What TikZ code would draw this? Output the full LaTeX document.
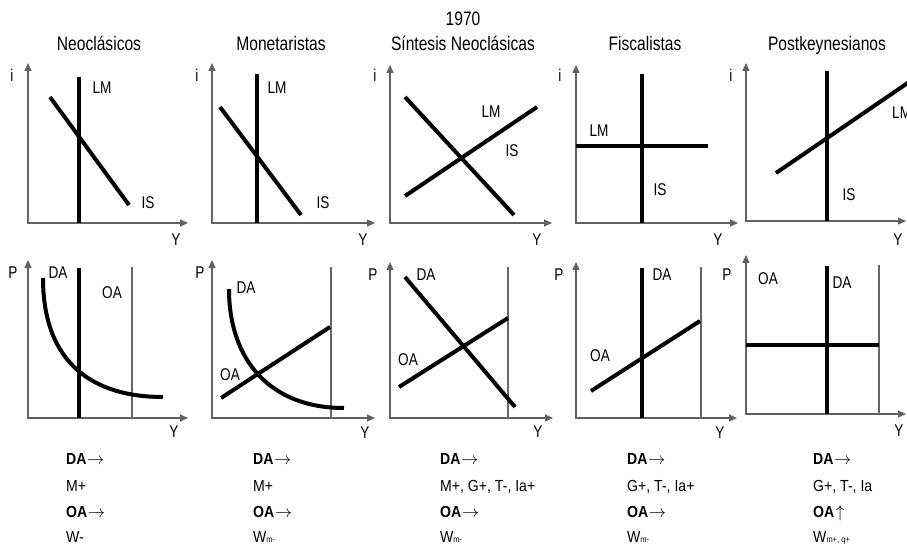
\documentclass[tikz,border=0pt]{standalone}
\usepackage{fontspec}
\setmainfont[FakeStretch=0.8]{Liberation Sans}
\newfontfamily\txtfont[FakeStretch=0.88]{Liberation Sans}
\usetikzlibrary{arrows.meta}
\newcommand{\subsm}[1]{{\fontsize{8.5}{8.5}\selectfont #1}}
\newcommand{\rarr}{\hspace{0.5pt}$\rightarrow$}
\newcommand{\uarr}{\hspace{1.5pt}$\uparrow$}
\begin{document}
\begin{tikzpicture}[x=1pt,y=-1pt,
  axis/.style={draw=black!62, line width=1.4pt, {Triangle[length=8pt,width=7pt]}-{Triangle[length=8pt,width=7pt]}},
  guide/.style={draw=black!60, line width=1.2pt},
  curve/.style={draw=black, line width=4pt},
  lbl/.style={font=\fontsize{17}{19}\selectfont, inner sep=0pt},
  ttl/.style={font=\fontsize{19.5}{21}\selectfont, inner sep=0pt, anchor=base},
  txt/.style={font=\txtfont\fontsize{16}{18}\selectfont, inner sep=0pt, anchor=base west},
]
\useasboundingbox (0,0) rectangle (907,545);

% titles
\node[ttl] (yr) at (463,26) {1970};
\node[ttl] (t1) at (99,51) {Neoclásicos};
\node[ttl] (t2) at (281,51) {Monetaristas};
\node[ttl] (t3) at (463,51) {Síntesis Neoclásicas};
\node[ttl] (t4) at (645,51) {Fiscalistas};
\node[ttl] (t5) at (827,51) {Postkeynesianos};

% ---------- top row ----------
% panel 1
\draw[axis] (28,63) |- (188,223);
\draw[curve] (79,77) -- (79,223);
\draw[curve] (50,97) -- (129,205);
\node[lbl] (a1i) at (12,75) {i};
\node[lbl] (a1lm) at (102,88) {LM};
\node[lbl] (a1is) at (148,203) {IS};
\node[lbl] (a1y) at (176,240) {Y};
% panel 2
\draw[axis] (212,63) |- (375,223);
\draw[curve] (257,74) -- (257,223);
\draw[curve] (220,107) -- (301,215);
\node[lbl] (a2i) at (197,75) {i};
\node[lbl] (a2lm) at (277,88) {LM};
\node[lbl] (a2is) at (323,203) {IS};
\node[lbl] (a2y) at (363,240) {Y};
% panel 3
\draw[axis] (390,65) |- (552,223);
\draw[curve] (405,97) -- (514,215);
\draw[curve] (405,196) -- (537,107);
\node[lbl] (a3i) at (375,75) {i};
\node[lbl] (a3lm) at (491,112) {LM};
\node[lbl] (a3is) at (512,151) {IS};
\node[lbl] (a3y) at (537,240) {Y};
% panel 4
\draw[axis] (576,65) |- (738,223);
\draw[curve] (642,74) -- (642,223);
\draw[curve] (576,146) -- (708,146);
\node[lbl] (a4i) at (560,75) {i};
\node[lbl] (a4lm) at (599,131) {LM};
\node[lbl] (a4is) at (660,190) {IS};
\node[lbl] (a4y) at (718,240) {Y};
% panel 5
\draw[axis] (746,63) |- (906,221);
\draw[curve] (827,71) -- (827,221);
\draw[curve] (776,173) -- (912,80);
\node[lbl] (a5i) at (731,75) {i};
\node[lbl, anchor=west] (a5lm) at (892,113) {LM};
\node[lbl] (a5is) at (849,195) {IS};
\node[lbl] (a5y) at (898,240) {Y};

% ---------- bottom row ----------
% panel 1
\draw[axis] (28,260) |- (188,418);
\draw[guide] (132,267) -- (132,418);
\draw[curve] (79,268) -- (79,418);
\draw[curve] (43,278) .. controls (43,365) and (95,397) .. (163,397);
\node[lbl] (b1p) at (13,273) {P};
\node[lbl] (b1da) at (58,273) {DA};
\node[lbl] (b1oa) at (112,293) {OA};
\node[lbl] (b1y) at (174,432) {Y};
% panel 2
\draw[axis] (212,260) |- (375,418);
\draw[guide] (331,267) -- (331,418);
\draw[curve] (229,289) .. controls (229,360) and (270,408) .. (344,408);
\draw[curve] (221,398) -- (330,327);
\node[lbl] (b2p) at (200,273) {P};
\node[lbl] (b2da) at (246,288) {DA};
\node[lbl] (b2oa) at (230,375) {OA};
\node[lbl] (b2y) at (365,433) {Y};
% panel 3
\draw[axis] (390,262) |- (553,418);
\draw[guide] (508,267) -- (508,418);
\draw[curve] (405,277) -- (515,407);
\draw[curve] (399,387) -- (508,318);
\node[lbl] (b3p) at (373,275) {P};
\node[lbl] (b3da) at (426,275) {DA};
\node[lbl] (b3oa) at (408,360) {OA};
\node[lbl] (b3y) at (538,432) {Y};
% panel 4
\draw[axis] (576,262) |- (737,418);
\draw[guide] (701,267) -- (701,418);
\draw[curve] (642,268) -- (642,418);
\draw[curve] (591,391) -- (700,321);
\node[lbl] (b4p) at (559,275) {P};
\node[lbl] (b4da) at (662,275) {DA};
\node[lbl] (b4oa) at (600,356) {OA};
\node[lbl] (b4y) at (720,433) {Y};
% panel 5
\draw[axis] (746,255) |- (906,414);
\draw[guide] (879,265) -- (879,414);
\draw[curve] (827,266) -- (827,414);
\draw[curve] (746,345) -- (879,345);
\node[lbl] (b5p) at (727,275) {P};
\node[lbl] (b5oa) at (768,279) {OA};
\node[lbl] (b5da) at (842,283) {DA};
\node[lbl] (b5y) at (899,431) {Y};

% ---------- bottom text ----------
\node[txt] (c1a) at (66,464) {\bfseries DA\rarr};
\node[txt] (c1b) at (66,491) {M+};
\node[txt] (c1c) at (66,517) {\bfseries OA\rarr};
\node[txt] (c1d) at (66,542) {W-};

\node[txt] (c2a) at (253,464) {\bfseries DA\rarr};
\node[txt] (c2b) at (253,491) {M+};
\node[txt] (c2c) at (253,517) {\bfseries OA\rarr};
\node[txt] (c2d) at (253,542) {W\subsm{m-}};

\node[txt] (c3a) at (440,464) {\bfseries DA\rarr};
\node[txt] (c3b) at (440,491) {M+, G+, T-, Ia+};
\node[txt] (c3c) at (440,517) {\bfseries OA\rarr};
\node[txt] (c3d) at (440,542) {W\subsm{m-}};

\node[txt] (c4a) at (627,464) {\bfseries DA\rarr};
\node[txt] (c4b) at (627,491) {G+, T-, Ia+};
\node[txt] (c4c) at (627,517) {\bfseries OA\rarr};
\node[txt] (c4d) at (627,542) {W\subsm{m-}};

\node[txt] (c5a) at (813,464) {\bfseries DA\rarr};
\node[txt] (c5b) at (813,491) {G+, T-, Ia};
\node[txt] (c5c) at (813,517) {\bfseries OA\uarr};
\node[txt] (c5d) at (813,542) {W\subsm{m+, q+}};
\end{tikzpicture}
\end{document}
